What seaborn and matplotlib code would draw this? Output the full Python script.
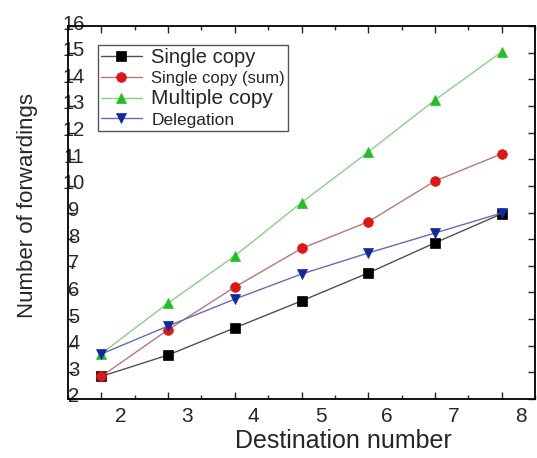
import numpy as np
import pandas as pd
import seaborn as sns
import matplotlib.pyplot as plt
from matplotlib import font_manager
from matplotlib.ticker import MultipleLocator
from matplotlib.transforms import ScaledTranslation

# values
dest = [2, 3, 4, 5, 6, 7, 8]
single = [2.85, 3.65, 4.67, 5.68, 6.73, 7.86, 8.95]
single_sum = [2.85, 4.60, 6.20, 7.65, 8.65, 10.18, 11.20]
multiple = [3.70, 5.60, 7.37, 9.37, 11.27, 13.22, 15.03]
delegation = [3.69, 4.74, 5.75, 6.69, 7.48, 8.23, 8.98]

names = ['Single copy', 'Single copy (sum)', 'Multiple copy', 'Delegation']
markers = ['s', 'o', '^', 'v']
marker_colors = ['#000000', '#e01515', '#22c022', '#1428a0']
line_colors = ['#505050', '#b87878', '#88d088', '#6a6ab8']

sns.set_style('ticks')
installed = {f.name for f in font_manager.fontManager.ttflist}
narrow = 'Liberation Sans Narrow' if 'Liberation Sans Narrow' in installed else 'Liberation Sans'
plt.rcParams['font.family'] = ['Liberation Sans', 'DejaVu Sans']

# long-form table for seaborn
df = pd.DataFrame({
    'dest': dest * 4,
    'value': single + single_sum + multiple + delegation,
    'series': np.repeat(names, len(dest)),
})

fig = plt.figure(figsize=(5.37, 4.58), dpi=100)
ax = fig.add_axes([68 / 537, 59 / 458, 467 / 537, 373 / 458])

for name, m, mc, lc in zip(names, markers, marker_colors, line_colors):
    sub = df[df['series'] == name]
    sns.lineplot(data=sub, x='dest', y='value', ax=ax, color=lc, lw=1.0,
                 marker=m, ms=7, markerfacecolor=mc, markeredgecolor=mc,
                 markeredgewidth=0.5, label=name)

ax.set_xlim(1.5, 8.5)
ax.set_ylim(2, 16)
ax.set_xticks(dest)
ax.xaxis.set_minor_locator(MultipleLocator(0.5))
ax.yaxis.set_major_locator(MultipleLocator(1))

for s in ax.spines.values():
    s.set_visible(True)
    s.set_linewidth(1.3)
    s.set_color('black')

ax.tick_params(axis='both', which='both', direction='in', top=True, right=True, width=1.0)
ax.tick_params(axis='both', which='major', length=5)
ax.tick_params(axis='x', which='minor', length=3)
ax.tick_params(axis='x', which='major', pad=6, labelsize=15)
ax.tick_params(axis='y', which='major', pad=-4.3, labelsize=14.5)

# x tick labels sit to the right of their ticks, y labels sit on the spine
for lab in ax.get_xticklabels():
    lab.set_transform(lab.get_transform() + ScaledTranslation(0.19, 0, fig.dpi_scale_trans))
    lab.set_family([narrow, 'DejaVu Sans'])
for lab in ax.get_yticklabels():
    lab.set_horizontalalignment('center')
    lab.set_transform(lab.get_transform() + ScaledTranslation(0, 0.04, fig.dpi_scale_trans))
    lab.set_family([narrow, 'DejaVu Sans'])

ax.set_xlabel('Destination number', fontsize=18)
ax.xaxis.set_label_coords(0.59, -0.08)
ax.set_ylabel('Number of forwardings', fontsize=16)
ax.yaxis.set_label_coords(-0.064, 0.52)

leg = ax.legend(loc='upper left', bbox_to_anchor=(0.064, 0.949), borderaxespad=0,
                borderpad=0.15, handlelength=2.1, handletextpad=0.5, labelspacing=0.15,
                frameon=True, fancybox=False, framealpha=1, fontsize=14)
leg.get_frame().set_edgecolor('#555555')
leg.get_frame().set_linewidth(1.0)
leg_sizes = [14.5, 12, 15, 12.5]
leg_fams = ['Liberation Sans', narrow, 'Liberation Sans', narrow]
for t, fs, fam in zip(leg.get_texts(), leg_sizes, leg_fams):
    t.set_fontsize(fs)
    t.set_family([fam, 'DejaVu Sans'])

fig.savefig('out.png', dpi=100)
